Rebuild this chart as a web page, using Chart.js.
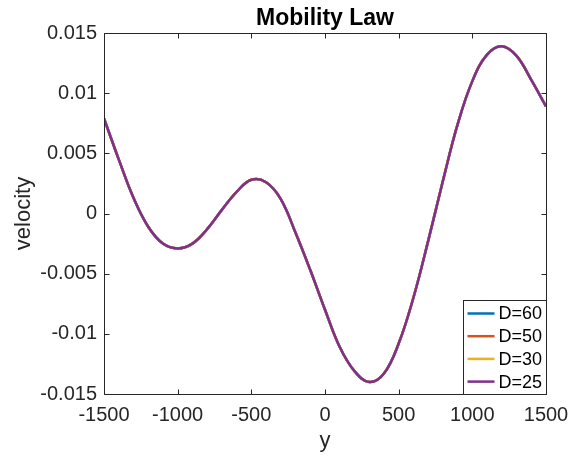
<!DOCTYPE html>
<html>
<head>
<meta charset="utf-8">
<title>Mobility Law</title>
<script src="https://cdn.jsdelivr.net/npm/chart.js@4/dist/chart.umd.min.js"></script>
<style>
  html, body { margin: 0; padding: 0; background: #fff; }
  #wrap { width: 583px; height: 459px; }
</style>
</head>
<body>
<div id="wrap"><canvas id="mobility"></canvas></div>
<script>
// position along y and the resulting velocity (same curve for every D)
const yPos = [-1500, -1400, -1300, -1200, -1100, -1000, -900, -800, -700, -600,
  -500, -400, -300, -200, -100, 0, 100, 200, 300, 400,
  500, 600, 700, 800, 900, 1000, 1100, 1200, 1300, 1400, 1500];
const velocity = [0.0079, 0.0045, 0.0013, -0.0011, -0.0025, -0.0029, -0.0025, -0.0013, 0.0003, 0.0018,
  0.0028, 0.0026, 0.0012, -0.0016, -0.0047, -0.0080, -0.0111, -0.0131, -0.0140, -0.0133,
  -0.0108, -0.0070, -0.0023, 0.0027, 0.0074, 0.0110, 0.0132, 0.0139, 0.0131, 0.0111, 0.0089];

const seriesLabels = ["D=60", "D=50", "D=30", "D=25"];
const seriesColors = ["#0072BD", "#D95319", "#EDB120", "#7E2F8E"];

const xTicks = [-1500, -1000, -500, 0, 500, 1000, 1500];
const yTicks = [-0.015, -0.01, -0.005, 0, 0.005, 0.01, 0.015];
const yTickLabels = ["-0.015", "-0.01", "-0.005", "0", "0.005", "0.01", "0.015"];

const FONT = "'Liberation Sans', Arial, Helvetica, sans-serif";
const AXIS_COLOR = "#262626";

// box around the axes with inward ticks on all four sides
const boxAxes = {
  id: "boxAxes",
  afterDatasetsDraw(chart) {
    const { ctx, chartArea: a, scales } = chart;
    const L = Math.round(a.left) + 0.5, R = Math.round(a.right) + 0.5;
    const T = Math.round(a.top) + 0.5, B = Math.round(a.bottom) + 0.5;
    const tick = 5;
    ctx.save();
    ctx.strokeStyle = AXIS_COLOR;
    ctx.lineWidth = 1;
    ctx.beginPath();
    ctx.rect(L, T, R - L, B - T);
    xTicks.forEach((v) => {
      const px = Math.round(scales.x.getPixelForValue(v)) + 0.5;
      ctx.moveTo(px, B); ctx.lineTo(px, B - tick);
      ctx.moveTo(px, T); ctx.lineTo(px, T + tick);
    });
    yTicks.forEach((v) => {
      const py = Math.round(scales.y.getPixelForValue(v)) + 0.5;
      ctx.moveTo(L, py); ctx.lineTo(L + tick, py);
      ctx.moveTo(R, py); ctx.lineTo(R - tick, py);
    });
    ctx.stroke();
    ctx.restore();
  },
};

// legend boxed in the lower right corner of the plot
const cornerLegend = {
  id: "cornerLegend",
  afterDraw(chart) {
    const { ctx, chartArea: a } = chart;
    const w = 83, rowH = 22.7;
    const h = 94;
    const x0 = Math.round(a.right - w) + 0.5;
    const y0 = Math.round(a.bottom - h) + 0.5;
    ctx.save();
    ctx.fillStyle = "#fff";
    ctx.fillRect(x0, y0, w, h);
    ctx.strokeStyle = AXIS_COLOR;
    ctx.lineWidth = 1;
    ctx.strokeRect(x0, y0, w, h);
    ctx.font = "18px " + FONT;
    ctx.textBaseline = "middle";
    ctx.textAlign = "left";
    chart.data.datasets.forEach((ds, i) => {
      const cy = y0 + 13 + i * rowH;
      ctx.strokeStyle = ds.borderColor;
      ctx.lineWidth = 2.5;
      ctx.beginPath();
      ctx.moveTo(x0 + 4, cy);
      ctx.lineTo(x0 + 31, cy);
      ctx.stroke();
      ctx.fillStyle = "#000";
      ctx.fillText(ds.label, x0 + 35, cy + 1);
    });
    ctx.restore();
  },
};

new Chart(document.getElementById("mobility"), {
  type: "line",
  data: {
    datasets: seriesLabels.map((label, i) => ({
      label,
      data: yPos.map((y, k) => ({ x: y, y: velocity[k] })),
      borderColor: seriesColors[i],
      backgroundColor: seriesColors[i],
      borderWidth: 2.5,
      pointRadius: 0,
      tension: 0.4,
      order: seriesLabels.length - 1 - i,
    })),
  },
  options: {
    responsive: true,
    maintainAspectRatio: false,
    animation: false,
    layout: { padding: { left: 0, right: 37, top: 0, bottom: 0 } },
    plugins: {
      legend: { display: false },
      tooltip: { enabled: false },
      title: {
        display: true,
        fullSize: false,
        text: "Mobility Law",
        color: "#000",
        font: { family: FONT, size: 23, weight: "bold" },
        padding: { top: 5, bottom: 0.4 },
      },
    },
    scales: {
      x: {
        type: "linear",
        min: -1500,
        max: 1500,
        grid: { display: false, drawTicks: false },
        border: { display: false },
        afterBuildTicks: (s) => { s.ticks = xTicks.map((v) => ({ value: v })); },
        afterFit: (s) => { s.height = 65; },
        ticks: {
          color: AXIS_COLOR,
          font: { family: FONT, size: 20 },
          padding: 9,
          maxRotation: 0,
          callback: (v) => String(v),
        },
        title: {
          display: true,
          text: "y",
          color: AXIS_COLOR,
          font: { family: FONT, size: 22 },
          padding: { top: 0, bottom: 5 },
        },
      },
      y: {
        min: -0.015,
        max: 0.015,
        grid: { display: false, drawTicks: false },
        border: { display: false },
        afterBuildTicks: (s) => { s.ticks = yTicks.map((v) => ({ value: v })); },
        afterFit: (s) => { s.width = 104; },
        ticks: {
          color: AXIS_COLOR,
          font: { family: FONT, size: 20 },
          padding: 7,
          callback: (v, i) => yTickLabels[i],
        },
        title: {
          display: true,
          text: "velocity",
          color: AXIS_COLOR,
          font: { family: FONT, size: 22 },
          padding: { top: 11, bottom: 0 },
        },
      },
    },
  },
  plugins: [boxAxes, cornerLegend],
});
</script>
</body>
</html>
